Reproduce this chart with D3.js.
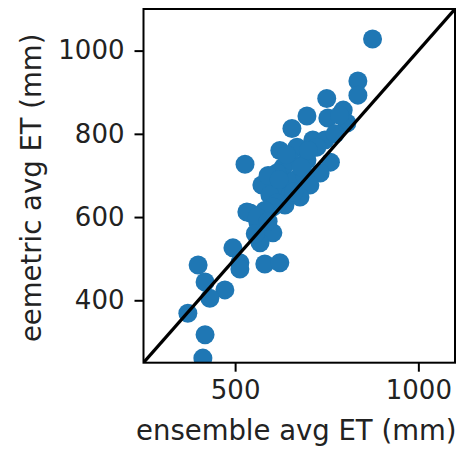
<!DOCTYPE html>
<html>
<head>
<meta charset="utf-8">
<script src="https://cdn.jsdelivr.net/npm/d3@7"></script>
<style>
  html, body { margin: 0; padding: 0; background: #fff; }
  svg { display: block; font-family: "DejaVu Sans", sans-serif; }
</style>
</head>
<body>
<svg id="chart"></svg>
<script>
// ensemble avg ET (x) vs eemetric avg ET (y), mm
var ensembleET = [875,835,835,750,795,753,805,696,655,712,622,669,760,527,631,573,696,732,785,745,
  773,723,650,614,636,663,690,609,650,595,636,704,677,614,603,581,541,532,562,571,
  603,568,581,622,513,494,513,472,431,418,399,371,418,412,560,590,640,680,700,620,
  555,590,660];
var eemetricET = [1028,927,893,885,857,838,826,843,813,785,760,768,732,727,720,677,737,706,845,785,
  800,768,737,706,677,689,701,665,653,653,629,677,648,634,624,616,610,612,588,574,
  562,538,487,490,490,526,475,425,405,444,485,369,317,261,600,700,750,720,760,690,
  560,590,660];
var xTicks = [500, 1000];
var yTicks = [400, 600, 800, 1000];
var axisMin = 250, axisMax = 1100;

const W = 459, H = 450;
const mLeft = 143.5, mRight = 455, mTop = 9, mBottom = 362.7;

const svg = d3.select('#chart').attr('width', W).attr('height', H);

const x = d3.scaleLinear().domain([axisMin, axisMax]).range([mLeft, mRight]);
const y = d3.scaleLinear().domain([axisMin, axisMax]).range([mBottom, mTop]);

svg.append('clipPath').attr('id', 'clip')
  .append('rect')
    .attr('x', mLeft).attr('y', mTop)
    .attr('width', mRight - mLeft).attr('height', mBottom - mTop);

const plot = svg.append('g').attr('clip-path', 'url(#clip)');

const pts = ensembleET.map((v, i) => [v, eemetricET[i]]);

plot.selectAll('circle')
  .data(pts).enter()
  .append('circle')
    .attr('cx', d => x(d[0]))
    .attr('cy', d => y(d[1]))
    .attr('r', 9.5)
    .attr('fill', '#1f77b4');

// 1:1 line
plot.append('line')
  .attr('x1', x(axisMin)).attr('y1', y(axisMin))
  .attr('x2', x(axisMax)).attr('y2', y(axisMax))
  .attr('stroke', '#000')
  .attr('stroke-width', 3.2);

// axes
const xAxis = d3.axisBottom(x).tickValues(xTicks).tickSize(9).tickPadding(9).tickFormat(d3.format('d'));
const yAxis = d3.axisLeft(y).tickValues(yTicks).tickSize(9).tickPadding(10).tickFormat(d3.format('d'));

const gx = svg.append('g').attr('transform', `translate(0,${mBottom})`).call(xAxis);
const gy = svg.append('g').attr('transform', `translate(${mLeft},0)`).call(yAxis);

[gx, gy].forEach(g => {
  g.select('.domain').remove();
  g.selectAll('line').attr('stroke', '#000').attr('stroke-width', 2);
  g.selectAll('text').attr('fill', '#222').style('font-size', '26px')
    .style('font-family', '"DejaVu Sans", sans-serif');
});

// frame
svg.append('rect')
  .attr('x', mLeft).attr('y', mTop)
  .attr('width', mRight - mLeft).attr('height', mBottom - mTop)
  .attr('fill', 'none')
  .attr('stroke', '#000')
  .attr('stroke-width', 2);

svg.append('text')
  .attr('x', (mLeft + mRight) / 2 - 3)
  .attr('y', 440)
  .attr('text-anchor', 'middle')
  .attr('fill', '#222')
  .style('font-size', '27.5px')
  .text('ensemble avg ET (mm)');

svg.append('text')
  .attr('transform', `translate(41,${(mTop + mBottom) / 2 + 2}) rotate(-90)`)
  .attr('text-anchor', 'middle')
  .attr('fill', '#222')
  .style('font-size', '27.5px')
  .text('eemetric avg ET (mm)');
</script>
</body>
</html>
